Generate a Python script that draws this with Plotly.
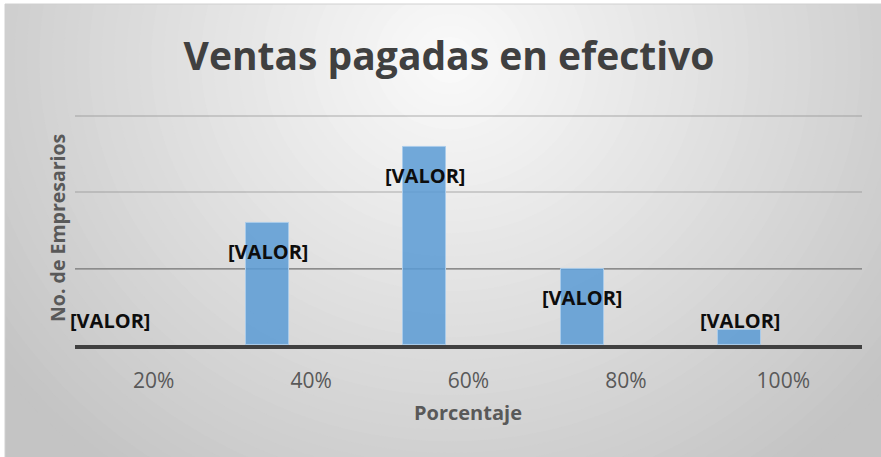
import plotly.graph_objects as go

# ---- data ----
categories = ['20%', '40%', '60%', '80%', '100%']
empresarios = [0, 8, 13, 5, 1]
etiquetas = ['[VALOR]', '[VALOR]', '[VALOR]', '[VALOR]', '[VALOR]']
titulo = 'Ventas pagadas en efectivo'
titulo_x = 'Porcentaje'
titulo_y = 'No. de Empresarios'

# ---- layout helpers (figure pixels -> paper fraction, margins are 0) ----
W, H = 881, 457
FONT = 'Open Sans'


def px_x(x):
    return x / W


def px_y(y):
    return 1 - y / H


Y_MAX = 15.2
PLOT_L, PLOT_R, PLOT_B = 75, 862, 345
PX_PER_UNIT = 229 / 15
PLOT_T = PLOT_B - PX_PER_UNIT * Y_MAX
BAR_WIDTH = 0.273
BAR_OFFSET = -0.413

fig = go.Figure()
fig.add_trace(go.Bar(
    x=categories, y=empresarios,
    width=BAR_WIDTH, offset=BAR_OFFSET,
    marker=dict(color='rgba(91,155,213,0.85)',
                line=dict(color='#a9cbea', width=[1 if v > 0 else 0 for v in empresarios])),
    hoverinfo='skip', showlegend=False,
))

# ---- radial gradient background (concentric ellipses) ----
shapes = []
cx, cy = 450, 60
rx, ry = 560, 520
c_in, c_out = 251, 196
N = 45
for k in range(N, 0, -1):
    r = k / N
    v = round(c_in + (c_out - c_in) * r)
    shapes.append(dict(
        type='circle', xref='paper', yref='paper', layer='below',
        x0=px_x(cx - r * rx), x1=px_x(cx + r * rx),
        y0=px_y(cy + r * ry), y1=px_y(cy - r * ry),
        fillcolor=f'rgb({v},{v},{v})', line=dict(width=0),
    ))
# white strips outside the chart area + chart border
shapes.append(dict(type='rect', xref='paper', yref='paper', layer='below',
                   x0=-0.01, x1=px_x(5), y0=-0.01, y1=1.01,
                   fillcolor='white', line=dict(width=0)))
shapes.append(dict(type='rect', xref='paper', yref='paper', layer='below',
                   x0=-0.01, x1=1.01, y0=px_y(4), y1=1.01,
                   fillcolor='white', line=dict(width=0)))
shapes.append(dict(type='rect', xref='paper', yref='paper', layer='below',
                   x0=px_x(5), x1=1.02, y0=-0.02, y1=px_y(4),
                   fillcolor='rgba(0,0,0,0)', line=dict(color='#d0d0d0', width=1)))
# darker first gridline
shapes.append(dict(type='line', xref='paper', yref='y', layer='below',
                   x0=px_x(PLOT_L), x1=px_x(PLOT_R), y0=5, y1=5,
                   line=dict(color='#8c8c8c', width=1.5)))

# ---- data labels ----
annotations = []
for i, (v, lab) in enumerate(zip(empresarios, etiquetas)):
    if v >= 3:
        yy, ys = v, -29
    else:
        yy, ys = 0, 24
    annotations.append(dict(
        x=i + BAR_OFFSET + BAR_WIDTH / 2, y=yy, xref='x', yref='y', yshift=ys,
        text=lab, showarrow=False, xanchor='center', yanchor='middle',
        font=dict(family=FONT, size=20, color='#0d0d0d', weight='bold'),
    ))

annotations.append(dict(
    x=px_x(57), y=px_y(228), xref='paper', yref='paper', text=titulo_y,
    textangle=-90, showarrow=False, xanchor='center', yanchor='middle',
    font=dict(family=FONT, size=19.5, color='#595959', weight='bold'),
))
annotations.append(dict(
    x=px_x(468), y=px_y(412), xref='paper', yref='paper', text=titulo_x,
    showarrow=False, xanchor='center', yanchor='middle',
    font=dict(family=FONT, size=20, color='#595959', weight='bold'),
))

fig.update_layout(
    width=W, height=H,
    margin=dict(l=0, r=0, t=0, b=0, pad=0),
    paper_bgcolor=f'rgb({c_out},{c_out},{c_out})',
    plot_bgcolor='rgba(0,0,0,0)',
    showlegend=False,
    bargap=0,
    title=dict(text=titulo, x=px_x(449), y=px_y(56), xref='container', yref='container',
               xanchor='center', yanchor='middle',
               font=dict(family=FONT, size=39, color='#404040', weight='bold')),
    xaxis=dict(domain=[px_x(PLOT_L), px_x(PLOT_R)], type='category',
               range=[-0.5, len(categories) - 0.5], autorange=False,
               showline=True, linecolor='#404040', linewidth=3.5,
               ticks='', showgrid=False, zeroline=False,
               tickfont=dict(family=FONT, size=21, color='#595959'),
               ticklabelstandoff=14, fixedrange=True),
    yaxis=dict(domain=[px_y(PLOT_B), px_y(PLOT_T)], range=[0, Y_MAX],
               tickvals=[5, 10, 15],
               showticklabels=False, showgrid=True,
               gridcolor='rgba(140,140,140,0.35)', gridwidth=1.5,
               zeroline=False, showline=False, fixedrange=True),
    shapes=shapes,
    annotations=annotations,
)

fig.write_html('out.html', config={'displayModeBar': False},
               post_script="document.body.style.margin='0px';document.body.style.overflow='hidden';")
